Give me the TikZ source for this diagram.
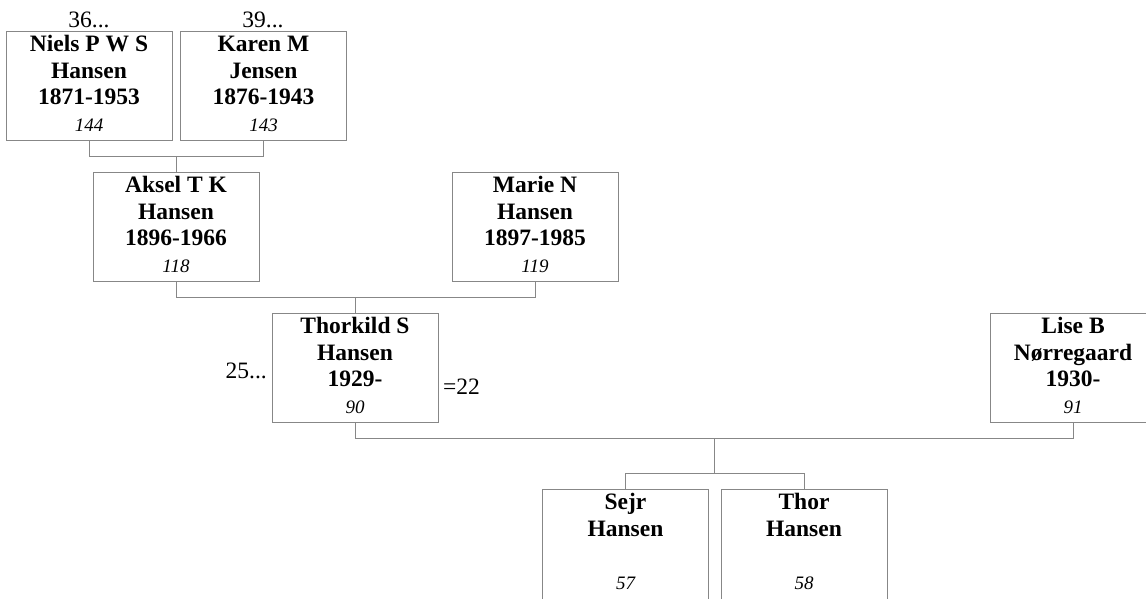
\documentclass[tikz,border=0pt]{standalone}
\usepackage{fontspec}
\setmainfont{Liberation Serif}
\definecolor{linegray}{RGB}{135,135,135}
\tikzset{
  pbox/.style={draw=linegray, line width=1pt, minimum width=166pt, inner sep=0pt},
  nm/.style={font=\fontsize{23.5}{27}\selectfont\bfseries, inner sep=0pt, anchor=base},
  num/.style={font=\fontsize{19}{22}\selectfont\itshape, inner sep=0pt, anchor=base},
  lab/.style={font=\fontsize{23.5}{27}\selectfont, inner sep=0pt},
  conn/.style={draw=linegray, line width=1pt},
}
% name, centre x, top y, height, line1, line2, line3, number
\newcommand\personbox[8]{%
  \node[pbox, minimum height=#4pt] (#1) at (#2,#3+#4/2) {};
  \node[nm] (#1-a) at (#2,#3+20) {#5};
  \node[nm] (#1-b) at (#2,#3+47) {#6};
  \node[nm] (#1-c) at (#2,#3+73) {#7};
  \node[num] (#1-n) at (#2,#3+100) {#8};
}
\begin{document}
\begin{tikzpicture}[x=1pt,y=-1pt]
\useasboundingbox (0,0) rectangle (1146,598);
\clip (0,0) rectangle (1146,598);

\personbox{niels}{89}{31}{109}{Niels P W S}{Hansen}{1871-1953}{144}
\personbox{karen}{263.5}{31}{109}{Karen M}{Jensen}{1876-1943}{143}
\personbox{aksel}{176}{172}{109}{Aksel T K}{Hansen}{1896-1966}{118}
\personbox{marie}{535}{172}{109}{Marie N}{Hansen}{1897-1985}{119}
\personbox{thorkild}{355}{313}{109}{Thorkild S}{Hansen}{1929-}{90}
\personbox{lise}{1073}{313}{109}{Lise B}{Nørregaard}{1930-}{91}
\personbox{sejr}{625.5}{489}{120}{Sejr}{Hansen}{}{57}
\personbox{thor}{804}{489}{120}{Thor}{Hansen}{}{58}

\node[lab, anchor=base] (l36) at (89,27) {36...};
\node[lab, anchor=base] (l39) at (263,27) {39...};
\node[lab, anchor=base east] (l25) at (267,378) {25...};
\node[lab, anchor=base west] (l22) at (443,394) {=22};

\draw[conn] (niels.south) -- ++(0,16) coordinate (nkbar) -| (karen.south);
\draw[conn] (aksel.north) -- (aksel.north |- nkbar);
\draw[conn] (aksel.south) -- ++(0,16) coordinate (ambar) -| (marie.south);
\draw[conn] (thorkild.north) -- (thorkild.north |- ambar);
\draw[conn] (thorkild.south) -- ++(0,16) coordinate (tlbar) -| (lise.south);
\coordinate (kidsbar) at (714,473);
\draw[conn] (kidsbar |- tlbar) -- (kidsbar);
\draw[conn] (sejr.north) -- (sejr.north |- kidsbar) -- (thor.north |- kidsbar) -- (thor.north);
\end{tikzpicture}
\end{document}
